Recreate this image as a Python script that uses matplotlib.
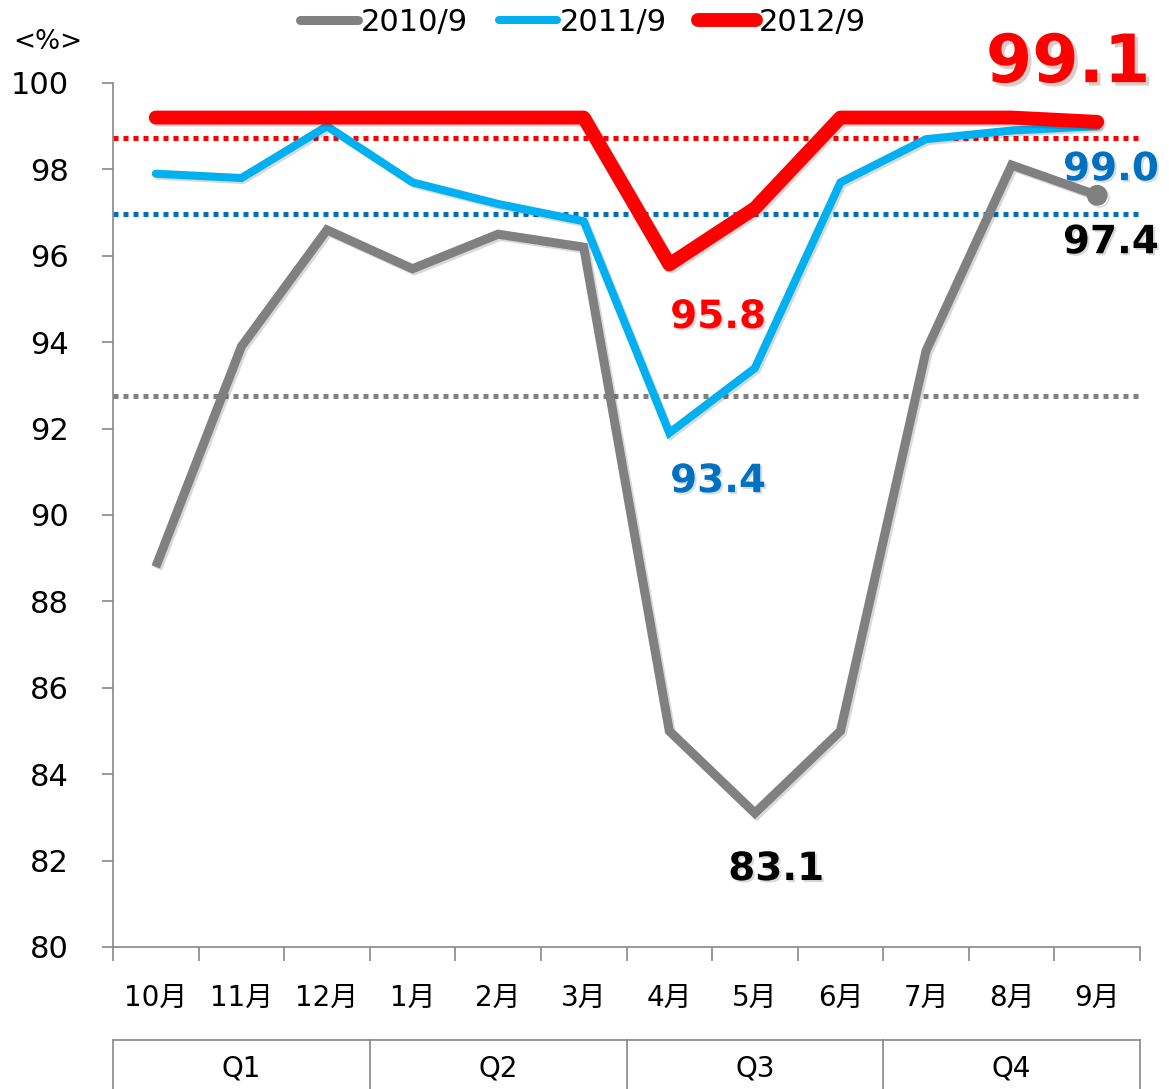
import matplotlib
matplotlib.use("Agg")
import matplotlib.pyplot as plt
import matplotlib.patheffects as pe
from matplotlib.lines import Line2D

plt.rcParams['font.family'] = ['DejaVu Sans', 'Noto Sans CJK JP']

months = ['10月', '11月', '12月', '1月', '2月', '3月', '4月', '5月', '6月', '7月', '8月', '9月']
quarters = ['Q1', 'Q2', 'Q3', 'Q4']
series_names = ['2010/9', '2011/9', '2012/9']
s2010 = [88.8, 93.9, 96.6, 95.7, 96.5, 96.2, 85.0, 83.1, 85.0, 93.8, 98.1, 97.4]
s2011 = [97.9, 97.8, 99.0, 97.7, 97.2, 96.8, 91.9, 93.4, 97.7, 98.7, 98.9, 99.0]
s2012 = [99.2, 99.2, 99.2, 99.2, 99.2, 99.2, 95.8, 97.1, 99.2, 99.2, 99.2, 99.1]
averages = [92.75, 96.97, 98.73]
yticks = [80, 82, 84, 86, 88, 90, 92, 94, 96, 98, 100]

W, H = 1169, 1089
fig = plt.figure(figsize=(W / 100, H / 100), dpi=100)
L, R, T, B = 113, 1140, 83, 947
ax = fig.add_axes([L / W, 1 - B / H, (R - L) / W, (B - T) / H])

c_gray, c_blue, c_red = '#808080', '#00B0F0', '#FF0000'
c_dblue = '#0070C0'
x = list(range(len(months)))

shadow = [pe.SimpleLineShadow(offset=(1.5, -1.5), alpha=0.15), pe.Normal()]

# average dotted lines
for v, c in zip(averages, [c_gray, c_dblue, c_red]):
    ax.axhline(v, color=c, lw=3.6, linestyle=(0, (1, 1)), zorder=1.5)

ax.plot(x, s2010, color=c_gray, lw=6.5, solid_joinstyle='miter', solid_capstyle='butt',
        marker='o', markevery=[11], markersize=14, zorder=2, path_effects=shadow)
ax.plot(x, s2011, color=c_blue, lw=5.8, solid_joinstyle='miter', solid_capstyle='round',
        zorder=3, path_effects=shadow)
ax.plot(x, s2012, color=c_red, lw=10, solid_joinstyle='round', solid_capstyle='round',
        zorder=4, path_effects=shadow)

ax.set_xlim(-0.5, 11.5)
ax.set_ylim(80, 100)
ax.set_yticks(yticks)
ax.set_yticklabels([str(v) for v in yticks], fontsize=22)
ax.tick_params(axis='y', direction='out', length=8, width=1.2, color='#888888', pad=24)
ax.set_xticks([i + 0.5 for i in range(-1, 12)])
ax.set_xticklabels([])
ax.tick_params(axis='x', direction='out', length=10, width=1.2, color='#888888')
for s in ['top', 'right']:
    ax.spines[s].set_visible(False)
for s in ['left', 'bottom']:
    ax.spines[s].set_color('#888888')
    ax.spines[s].set_linewidth(1.2)

# month labels
ym = (B - 998) / (B - T)
for i, m in enumerate(months):
    ax.text(i, ym, m, transform=ax.get_xaxis_transform(), ha='center', va='center',
            fontsize=20, clip_on=False)

# quarter boxes
ytop = (B - 1040) / (B - T)
ybot = (B - 1095) / (B - T)
yq = (B - 1068) / (B - T)
tr = ax.get_xaxis_transform()
ax.add_line(Line2D([-0.5, 11.5], [ytop, ytop], transform=tr, color='#888888', lw=1.2, clip_on=False))
for k in range(5):
    xb = -0.5 + 3 * k
    ax.add_line(Line2D([xb, xb], [ytop, ybot], transform=tr, color='#888888', lw=1.2, clip_on=False))
for k, q in enumerate(quarters):
    ax.text(3 * k + 1, yq, q, transform=tr, ha='center', va='center', fontsize=20, clip_on=False)

# data labels
lab = dict(fontweight='bold', family='DejaVu Sans', ha='center', va='baseline', zorder=6, clip_on=False)
txt_shadow = [pe.SimplePatchShadow(offset=(1.5, -1.5), alpha=0.15), pe.Normal()]
ax.text(6.57, 94.33, '95.8', color=c_red, fontsize=28, path_effects=txt_shadow, **lab)
ax.text(6.57, 90.53, '93.4', color=c_dblue, fontsize=28, path_effects=txt_shadow, **lab)
ax.text(7.25, 81.55, '83.1', color='black', fontsize=28, path_effects=txt_shadow, **lab)
ax.text(11.16, 96.06, '97.4', color='black', fontsize=28, path_effects=txt_shadow, **lab)
ax.text(11.16, 97.75, '99.0', color=c_dblue, fontsize=28, path_effects=txt_shadow, **lab)
ax.text(10.66, 100.02, '99.1', color=c_red, fontsize=48,
        path_effects=[pe.SimplePatchShadow(offset=(2.5, -2.5), alpha=0.2), pe.Normal()], **lab)

fig.text(13 / W, 1 - 42 / H, '<%>', fontsize=19, ha='left', va='center')

handles = [Line2D([], [], color=c, lw=lw, solid_capstyle='round')
           for c, lw in zip([c_gray, c_blue, c_red], [6.5, 5.8, 10])]
fig.legend(handles, series_names, loc='center', bbox_to_anchor=(583 / W, 1 - 22 / H),
           ncol=3, frameon=False, fontsize=22, handlelength=1.9, handletextpad=0.1,
           columnspacing=1.0)

fig.savefig('out.png', dpi=100)
